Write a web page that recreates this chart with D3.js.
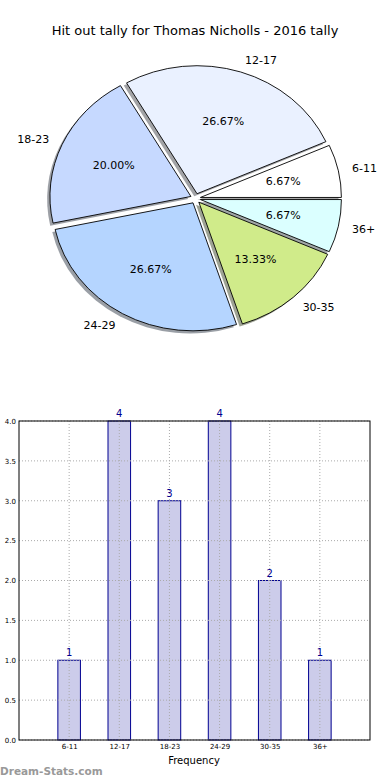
<!DOCTYPE html>
<html><head><meta charset="utf-8">
<script src="https://cdn.jsdelivr.net/npm/d3@7"></script>
<style>body{margin:0;background:#fff}svg{display:block}text{font-family:"DejaVu Sans",sans-serif}</style>
</head><body>
<script>
const title = "Hit out tally for Thomas Nicholls - 2016 tally";
const categories = ["6-11","12-17","18-23","24-29","30-35","36+"];
const values = [1,4,3,4,2,1];
const sliceColors = ["#ffffff","#eaf1ff","#c6d9ff","#b5d5ff","#d0eb8a","#dbffff"];
const yTicks = [0,0.5,1,1.5,2,2.5,3,3.5,4];
const xLabel = "Frequency";
const watermark = "Dream-Stats.com";

const W=390,H=780;
const svg=d3.select("body").append("svg").attr("width",W).attr("height",H);
svg.append("rect").attr("width",W).attr("height",H).attr("fill","#fff");

svg.append("text").attr("x",195).attr("y",35).attr("text-anchor","middle")
  .attr("font-size",13).attr("fill","#000").text(title);

// Pie (elliptical, as drawn by non-equal aspect)
const cx=195.5, cy=198.5, rx=141, ry=128, ex=5;
const total=d3.sum(values);
const pie=d3.pie().sort(null).startAngle(Math.PI/2).endAngle(Math.PI/2-2*Math.PI);
const arcs=pie(values);
const arc=d3.arc().innerRadius(0).outerRadius(1);
const g=svg.append("g");
arcs.forEach((a,i)=>{
  const mid=(a.startAngle+a.endAngle)/2;
  const dx=Math.sin(mid)*ex, dy=-Math.cos(mid)*ex;
  const c=d3.rgb(sliceColors[i]);
  const sh=d3.rgb(c.r*0.3,c.g*0.3,c.b*0.3);
  g.append("path").attr("d",arc(a))
    .attr("transform",`translate(${cx+dx-2.8},${cy+dy+2.6}) scale(${rx},${ry})`)
    .attr("fill",sh).attr("fill-opacity",0.5);
});
arcs.forEach((a,i)=>{
  const mid=(a.startAngle+a.endAngle)/2;
  const dx=Math.sin(mid)*ex, dy=-Math.cos(mid)*ex;
  g.append("path").attr("d",arc(a))
    .attr("transform",`translate(${cx+dx},${cy+dy}) scale(${rx},${ry})`)
    .attr("fill",sliceColors[i]).attr("stroke","#000").attr("stroke-width",0.9)
    .attr("vector-effect","non-scaling-stroke");
});
arcs.forEach((a,i)=>{
  const mid=(a.startAngle+a.endAngle)/2;
  const sx=Math.sin(mid), sy=-Math.cos(mid);
  const lx=cx+sx*(1.1*rx+ex), ly=cy+sy*(1.1*ry+ex);
  svg.append("text").attr("x",lx).attr("y",ly).attr("dy","0.35em")
    .attr("text-anchor",sx>0?"start":"end").attr("font-size",11).attr("fill","#000")
    .text(categories[i]);
  const px=cx+sx*(0.6*rx+ex), py=cy+sy*(0.6*ry+ex);
  svg.append("text").attr("x",px).attr("y",py).attr("dy","0.35em")
    .attr("text-anchor","middle").attr("font-size",11).attr("fill","#000")
    .text((values[i]/total*100).toFixed(2)+"%");
});

// Bar chart
const L=19,R=370,T=421,B=740;
const x=d3.scaleLinear().domain([-1,categories.length]).range([L,R]);
const y=d3.scaleLinear().domain([0,4]).range([B,T]);
const bw=x(0.45)-x(0);
const bg=svg.append("g");
bg.selectAll("rect.bar").data(values).join("rect").attr("class","bar")
  .attr("x",(d,i)=>x(i)-bw/2).attr("y",d=>y(d)).attr("width",bw).attr("height",d=>B-y(d))
  .attr("fill","#ccccea").attr("stroke","#000090").attr("stroke-width",1);
bg.selectAll("line.gy").data(yTicks).join("line").attr("class","gy")
  .attr("x1",L).attr("x2",R).attr("y1",d=>y(d)).attr("y2",d=>y(d))
  .attr("stroke","#aaa").attr("stroke-width",1).attr("stroke-dasharray","1,2");
bg.selectAll("line.gx").data(categories).join("line").attr("class","gx")
  .attr("x1",(d,i)=>x(i)).attr("x2",(d,i)=>x(i)).attr("y1",T).attr("y2",B)
  .attr("stroke","#aaa").attr("stroke-width",1).attr("stroke-dasharray","1,2");
bg.append("rect").attr("x",L).attr("y",T).attr("width",R-L).attr("height",B-T)
  .attr("fill","none").attr("stroke","#000").attr("stroke-width",1);
const yAxis=d3.axisLeft(y).tickValues(yTicks).tickFormat(d3.format(".1f")).tickSize(0).tickPadding(3);
const ya=svg.append("g").attr("transform",`translate(${L},0)`).call(yAxis);
ya.select(".domain").remove();
ya.selectAll("text").attr("font-size",7).attr("fill","#000").attr("font-family","DejaVu Sans");
const xAxis=d3.axisBottom(x).tickValues(d3.range(categories.length)).tickFormat(i=>categories[i]).tickSize(0).tickPadding(4);
const xa=svg.append("g").attr("transform",`translate(0,${B})`).call(xAxis);
xa.select(".domain").remove();
xa.selectAll("text").attr("font-size",7).attr("fill","#000").attr("font-family","DejaVu Sans");
bg.selectAll("text.val").data(values).join("text").attr("class","val")
  .attr("x",(d,i)=>x(i)).attr("y",d=>y(d)-4).attr("text-anchor","middle")
  .attr("font-size",10).attr("fill","#000090").text(d=>d);
svg.append("text").attr("x",194).attr("y",764).attr("text-anchor","middle")
  .attr("font-size",10).attr("fill","#000").text(xLabel);
svg.append("text").attr("x",0).attr("y",775).attr("font-size",10.5).attr("font-weight","bold")
  .attr("fill","#999").attr("font-family","'Open Sans',sans-serif").text(watermark);
</script>
</body></html>
